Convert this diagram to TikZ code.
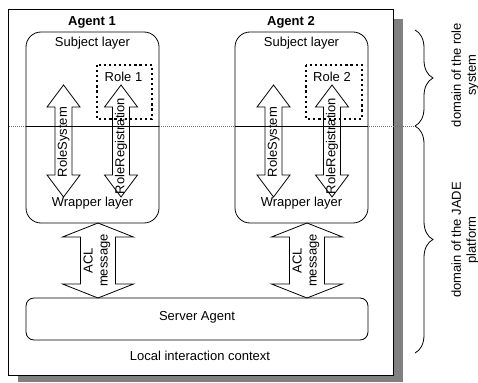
\documentclass[tikz,border=0pt]{standalone}
\usepackage{fontspec}
\setmainfont{Liberation Sans}
\usetikzlibrary{decorations.pathreplacing}

\tikzset{
  txt/.style={font=\fontsize{13}{15}\selectfont, inner sep=0pt, align=center},
  agentbox/.style={draw=black, line width=0.8pt, rounded corners=15pt},
  rolebox/.style={draw=black, line width=2.2pt, dash pattern=on 2.2pt off 2.9pt},
  outline/.style={draw=black, line width=0.8pt},
  divider/.style={draw=black!55, line width=0.6pt, dash pattern=on 1pt off 1pt},
  curly/.style={draw=black, line width=0.8pt, decorate,
    decoration={brace, amplitude=18pt, aspect=0.5}},
  pics/dblarrow/.style args={#1/#2/#3/#4}{code={
    \draw[outline] (0,-#1) -- (#2,-#1+#4) -- (#3,-#1+#4) -- (#3,#1-#4)
      -- (#2,#1-#4) -- (0,#1) -- (-#2,#1-#4) -- (-#3,#1-#4)
      -- (-#3,-#1+#4) -- (-#2,-#1+#4) -- cycle;
  }}
}

\begin{document}
\begin{tikzpicture}[x=1pt, y=-1pt]
  \useasboundingbox (0,0) rectangle (478,382);

  % outer frame with its drop shadow
  \fill[black!50] (18,19) rectangle (403,382);
  \draw[outline, fill=white] (8,9) rectangle (393,375);

  % boundary between the two domains
  \draw[divider] (9,126) -- (417,126);

  % agents
  \foreach \ax/\n/\lx in {26/1/92, 235/2/291} {
    \node[txt, font=\fontsize{13}{15}\selectfont\bfseries] (agent\n) at (\lx,22) {Agent \n};
    \draw[agentbox, fill=white] (\ax,32) rectangle (\ax+133,223);
    \draw[outline] (\ax,126) -- (\ax+133,126);
    \node[txt] (subject\n) at (\ax+66.5,43) {Subject layer};
    \node[txt] (wrapper\n) at (\ax+66.5,203) {Wrapper layer};
  }

  % roles
  \draw[rolebox] (97,65) rectangle (152,119);
  \node[txt] (role1) at (123.5,77) {Role 1};
  \draw[rolebox] (306,65) rectangle (362,119);
  \node[txt] (role2) at (332,77) {Role 2};

  % role system interfaces
  \pic at (63.5,141) {dblarrow=56/16.5/8.5/22};
  \pic at (121,141) {dblarrow=56/16.5/8.5/22};
  \pic at (273.5,141) {dblarrow=56/16.5/8.5/22};
  \pic at (332,141) {dblarrow=56/16.5/8.5/22};
  \node[txt, rotate=90] (rs1) at (63.5,142) {RoleSystem};
  \node[txt, rotate=90] (rr1) at (121,146) {RoleRegistration};
  \node[txt, rotate=90] (rs2) at (273.5,142) {RoleSystem};
  \node[txt, rotate=90] (rr2) at (332,146) {RoleRegistration};

  % ACL messaging towards the server agent
  \pic at (98,260.5) {dblarrow=37.5/35.5/17.5/14};
  \pic at (307,260.5) {dblarrow=37.5/35.5/17.5/14};
  \node[txt, rotate=90] (acl1) at (97,260.5) {ACL\\message};
  \node[txt, rotate=90] (acl2) at (306,260.5) {ACL\\message};

  % server agent and context
  \draw[outline, rounded corners=8pt] (26,298) rectangle (368,340);
  \node[txt] (server) at (197,317) {Server Agent};
  \node[txt] (context) at (200,356) {Local interaction context};

  % domain braces
  \draw[curly] (415,30) -- (415,126);
  \draw[curly] (415,126) -- (415,353);
  \node[txt, rotate=90] (domrole) at (465,75) {domain of the role\\system};
  \node[txt, rotate=90] (domjade) at (465,240) {domain of the JADE\\platform};
\end{tikzpicture}
\end{document}
